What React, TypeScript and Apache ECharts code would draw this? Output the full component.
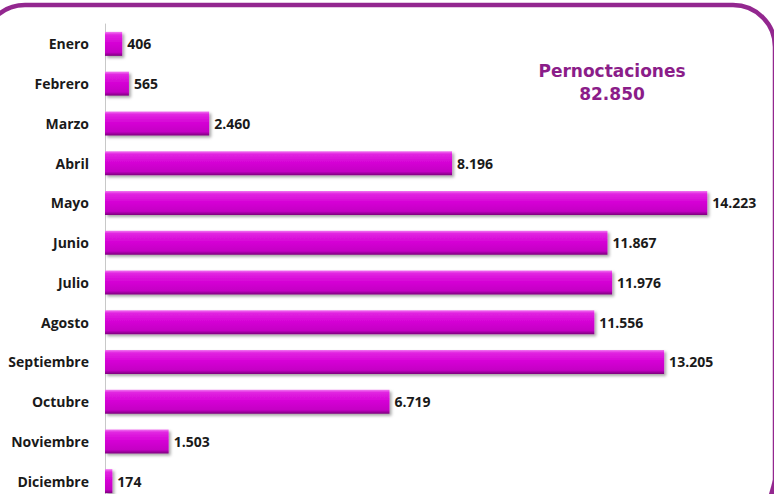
import React, { useEffect, useRef } from "react";
import * as echarts from "echarts";

const months = [
  "Enero", "Febrero", "Marzo", "Abril", "Mayo", "Junio",
  "Julio", "Agosto", "Septiembre", "Octubre", "Noviembre", "Diciembre",
];
const pernoctaciones = [406, 565, 2460, 8196, 14223, 11867, 11976, 11556, 13205, 6719, 1503, 174];
const titleLines = ["Pernoctaciones", "82.850"];

const fmt = (v: number) => String(v).replace(/\B(?=(\d{3})+(?!\d))/g, ".");

export default function App() {
  const ref = useRef<HTMLDivElement>(null);
  useEffect(() => {
    if (!ref.current) return;
    const chart = echarts.init(ref.current, null, { renderer: "svg" });
    const font = "'Open Sans', 'DejaVu Sans', sans-serif";
    const titleFont = "'DejaVu Sans', 'Open Sans', sans-serif";
    chart.setOption({
      animation: false,
      backgroundColor: "#ffffff",
      grid: {
        left: 105,
        top: 24,
        height: 477,
        right: 0,
        containLabel: false,
        outerBoundsMode: "none",
      },
      xAxis: {
        type: "value",
        min: 0,
        max: 15800,
        show: false,
        splitLine: { show: false },
      },
      yAxis: {
        type: "category",
        data: months,
        inverse: true,
        axisLine: { show: true, lineStyle: { color: "#c8c8c8", width: 1 } },
        axisTick: { show: false },
        axisLabel: {
          margin: 16,
          color: "#1a1a1a",
          fontFamily: font,
          fontWeight: 700,
          fontSize: 14,
        },
      },
      series: [
        {
          type: "bar",
          data: pernoctaciones,
          barWidth: 24,
          itemStyle: {
            color: new echarts.graphic.LinearGradient(0, 0, 0, 1, [
              { offset: 0, color: "#f27cf2" },
              { offset: 0.12, color: "#e126e1" },
              { offset: 0.5, color: "#d400d4" },
              { offset: 0.85, color: "#c400c4" },
              { offset: 1, color: "#7e007e" },
            ]),
            shadowColor: "rgba(0,0,0,0.35)",
            shadowBlur: 3,
            shadowOffsetX: 2,
            shadowOffsetY: 2,
          },
          label: {
            show: true,
            position: "right",
            distance: 5,
            color: "#1a1a1a",
            fontFamily: font,
            fontWeight: 700,
            fontSize: 14,
            formatter: (p: any) => fmt(p.value),
          },
        },
      ],
      graphic: [
        {
          type: "rect",
          shape: { x: -17, y: 5, width: 792, height: 700, r: 42 },
          style: { fill: "none", stroke: "#93278f", lineWidth: 4.5 },
          silent: true,
        },
        {
          type: "polygon",
          shape: { points: [[774, 476], [774, 494], [769, 494]] },
          style: { fill: "#93278f" },
          silent: true,
        },
        {
          type: "text",
          x: 612,
          y: 71,
          style: {
            text: titleLines[0],
            textAlign: "center",
            textVerticalAlign: "middle",
            fill: "#8b1d89",
            font: `700 17px ${titleFont}`,
          },
        },
        {
          type: "text",
          x: 612,
          y: 94,
          style: {
            text: titleLines[1],
            textAlign: "center",
            textVerticalAlign: "middle",
            fill: "#8b1d89",
            font: `700 17px ${titleFont}`,
          },
        },
      ],
    });
    return () => chart.dispose();
  }, []);
  return <div ref={ref} style={{ width: 774, height: 494, position: "absolute", left: 0, top: 0 }} />;
}
